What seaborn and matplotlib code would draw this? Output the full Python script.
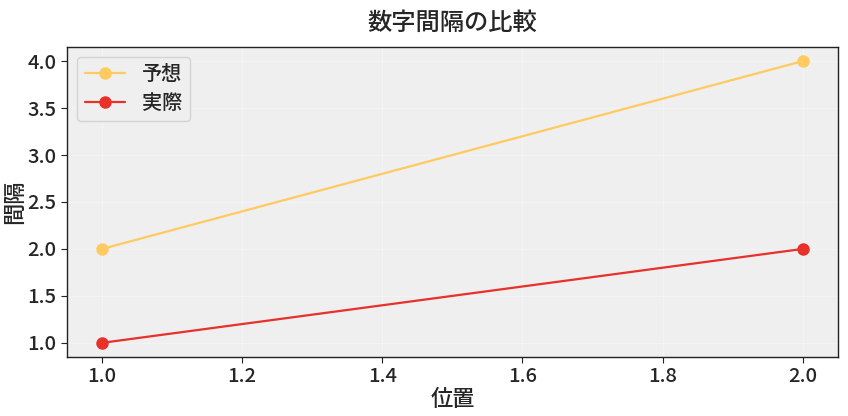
import matplotlib
matplotlib.use("Agg")
import matplotlib.pyplot as plt
import seaborn as sns
import pandas as pd

positions = [1, 2]
expected = [2, 4]
actual = [1, 2]
series_names = ["予想", "実際"]
colors = ["#FFCA5F", "#E8312A"]

sns.set_style("whitegrid")
plt.rcParams['font.family'] = ['Noto Sans CJK JP', 'DejaVu Sans']
plt.rcParams['font.weight'] = 'medium'

df = pd.DataFrame({
    "位置": positions * 2,
    "間隔": expected + actual,
    "系列": [series_names[0]] * 2 + [series_names[1]] * 2,
})

fig, ax = plt.subplots(figsize=(8.48, 4.16), dpi=100)
ax.set_facecolor("#EFEFEF")
sns.lineplot(data=df, x="位置", y="間隔", hue="系列", palette=colors,
             marker="o", markersize=9, markeredgewidth=0, linewidth=1.6, ax=ax)
ax.grid(True, color="white", alpha=0.3, linewidth=0.8)
for s in ax.spines.values():
    s.set_visible(True)
    s.set_color("#222222")
    s.set_linewidth(1.0)
ax.tick_params(axis="both", labelsize=14.5, length=4, color="#222222", left=True, bottom=True)
ax.set_title("数字間隔の比較", fontsize=17.5, pad=12, fontweight="medium")
ax.set_xlabel("位置", fontsize=16, fontweight="medium", labelpad=1)
ax.set_ylabel("間隔", fontsize=16, fontweight="medium", labelpad=1)
leg = ax.legend(title=None, fontsize=14.5, loc="upper left", frameon=True)
leg.get_frame().set_facecolor("#EFEFEF")
leg.get_frame().set_edgecolor("#CCCCCC")
fig.subplots_adjust(left=0.079, right=0.988, top=0.887, bottom=0.142)
fig.savefig("out.png", dpi=100)
